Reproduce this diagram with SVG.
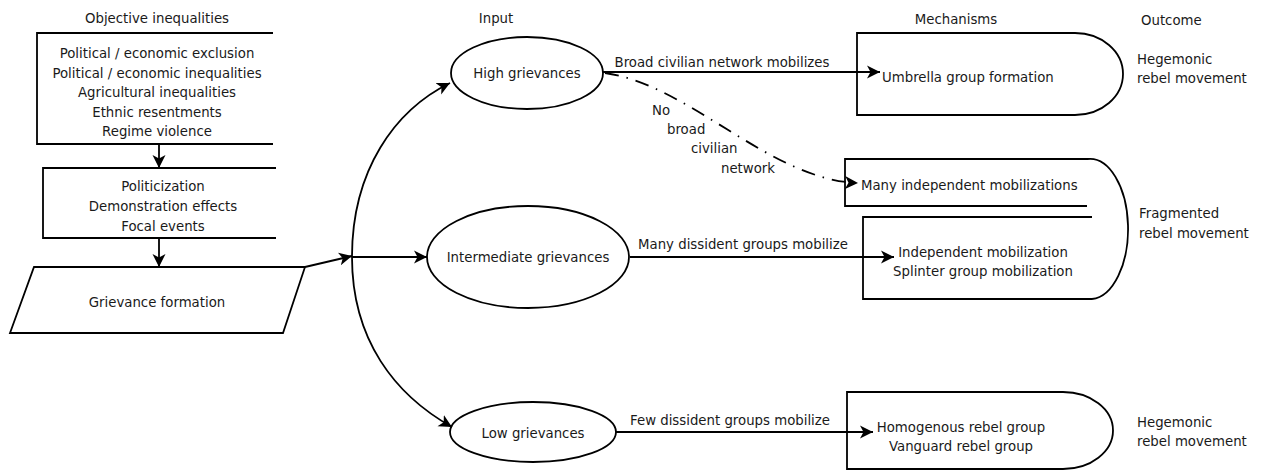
<svg xmlns="http://www.w3.org/2000/svg" width="1261" height="472" viewBox="0 0 1261 472">
<style>
  .s{fill:none;stroke:#000;stroke-width:1.8;}
  .w{fill:#fff;stroke:#000;stroke-width:1.8;}
  text{font-family:"DejaVu Sans",Verdana,sans-serif;font-size:13.3px;fill:#1a1a1a;}
  .c{text-anchor:middle;}
  .c2{stroke:#000;stroke-width:1.8;fill:none;marker-end:url(#arr);}
</style>
<defs>
  <marker id="arr" markerUnits="userSpaceOnUse" markerWidth="16" markerHeight="14" refX="13" refY="7" orient="auto">
    <path d="M0,0.5 L13,7 L0,13.5 L3.5,7 Z" fill="#000"/>
  </marker>
</defs>
<rect width="1261" height="472" fill="#fff"/>

<g id="headers">
  <text x="157" y="23" class="c">Objective inequalities</text>
  <text x="496" y="23" class="c">Input</text>
  <text x="956" y="24" class="c">Mechanisms</text>
  <text x="1141" y="25">Outcome</text>
</g>

<g id="objective">
  <path class="s" d="M273,33 H37 V144 H273"/>
  <text x="157" y="58" class="c">Political / economic exclusion</text>
  <text x="157" y="78" class="c">Political / economic inequalities</text>
  <text x="157" y="97" class="c">Agricultural inequalities</text>
  <text x="157" y="117" class="c">Ethnic resentments</text>
  <text x="157" y="136" class="c">Regime violence</text>
</g>

<g id="politicization">
  <path class="s" d="M276,168 H43 V238 H276"/>
  <text x="163" y="191" class="c">Politicization</text>
  <text x="163" y="211" class="c">Demonstration effects</text>
  <text x="163" y="231" class="c">Focal events</text>
</g>

<g id="grievance">
  <path class="w" d="M34,267 H305 L283,333 H10 Z"/>
  <text x="157" y="307" class="c">Grievance formation</text>
</g>

<g id="high">
  <ellipse class="w" cx="527" cy="73" rx="76" ry="36"/>
  <text x="527" y="78" class="c">High grievances</text>
</g>
<g id="intermediate">
  <ellipse class="w" cx="528" cy="257" rx="101" ry="51"/>
  <text x="528" y="262" class="c">Intermediate grievances</text>
</g>
<g id="low">
  <ellipse class="w" cx="533" cy="432" rx="83" ry="30"/>
  <text x="533" y="438" class="c">Low grievances</text>
</g>

<g id="umbrella">
  <path class="s" d="M1075,33 H857 V115 H1075 A48,41 0 0 0 1075,33"/>
  <text x="882" y="82">Umbrella group formation</text>
</g>

<g id="fragmented">
  <path class="s" d="M1088,159 H845 V206 H1087"/>
  <path class="s" d="M1092,217 H863 V299 H1092"/>
  <path class="s" d="M1088,159 A38,70 0 0 1 1092,299"/>
  <text x="861" y="190">Many independent mobilizations</text>
  <text x="983" y="257" class="c">Independent mobilization</text>
  <text x="983" y="276" class="c">Splinter group mobilization</text>
</g>

<g id="homogenous">
  <path class="s" d="M1063,392 H847 V469 H1063 A50,38.5 0 0 0 1063,392"/>
  <text x="961" y="432" class="c">Homogenous rebel group</text>
  <text x="961" y="451" class="c">Vanguard rebel group</text>
</g>

<g id="outcomes">
  <text x="1137" y="64">Hegemonic</text>
  <text x="1137" y="83">rebel movement</text>
  <text x="1139" y="218">Fragmented</text>
  <text x="1139" y="238">rebel movement</text>
  <text x="1137" y="427">Hegemonic</text>
  <text x="1137" y="446">rebel movement</text>
</g>

<g id="connectors">
  <line class="c2" x1="159" y1="144" x2="159" y2="168"/>
  <line class="c2" x1="159" y1="238" x2="159" y2="267"/>
  <line class="c2" x1="305" y1="267" x2="352" y2="256"/>
  <path class="c2" d="M352,257 C352,170 395,110 450,83"/>
  <path class="c2" d="M352,257 C352,340 395,395 452,427"/>
  <line class="c2" x1="352" y1="257" x2="427" y2="257"/>
  <line class="c2" x1="603" y1="72" x2="880" y2="72"/>
  <path class="c2" d="M605,73 C690,85 770,180 858,183" stroke-dasharray="14 8 1.5 8"/>
  <line class="c2" x1="630" y1="257" x2="894" y2="257"/>
  <line class="c2" x1="616" y1="432" x2="873" y2="432"/>
  <text x="722" y="67" class="c">Broad civilian network mobilizes</text>
  <text x="652" y="115">No</text>
  <text x="667" y="134">broad</text>
  <text x="691" y="153">civilian</text>
  <text x="721" y="173">network</text>
  <text x="743" y="249" class="c">Many dissident groups mobilize</text>
  <text x="730" y="425" class="c">Few dissident groups mobilize</text>
</g>
</svg>
